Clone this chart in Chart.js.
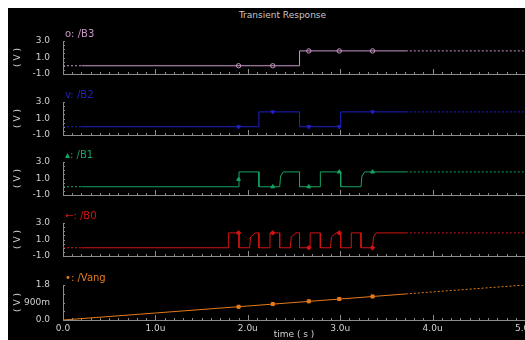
<!DOCTYPE html>
<html><head><meta charset="utf-8">
<script src="https://cdn.jsdelivr.net/npm/chart.js@4.4.1/dist/chart.umd.min.js"></script>
<style>
html,body{margin:0;padding:0;background:#fff;overflow:hidden;width:525px;height:340px;}
#frame{position:absolute;left:8px;top:8px;width:517px;height:332px;background:#000;overflow:hidden;}
#title{position:absolute;left:0;top:2px;width:549px;text-align:center;font:9px "DejaVu Sans";line-height:10px;color:#c8c8c8;white-space:nowrap;}
canvas{position:absolute;left:0;}
</style></head>
<body>
<div id="frame">
<div id="title">Transient Response</div>
<canvas id="c0" width="522" height="54"></canvas>
<canvas id="c1" width="522" height="54"></canvas>
<canvas id="c2" width="522" height="54"></canvas>
<canvas id="c3" width="522" height="54"></canvas>
<canvas id="c4" width="522" height="71"></canvas>
</div>
<script>
// ---- data (time in µs, values in V) ----
const xTickLabels = ['0.0','1.0u','2.0u','3.0u','4.0u','5.0u'];
const dashFrom = 3.71;
const dotUntil = 0.2;

const tB3 = [0, 0.2, 2.56, 2.56, 3.71, 5.0];
const vB3 = [0, 0, 0, 1.8, 1.8, 1.8];

const tB2 = [0, 0.2, 2.12, 2.12, 2.56, 2.56, 3.005, 3.005, 3.71, 5.0];
const vB2 = [0, 0, 0, 1.8, 1.8, 0, 0, 1.8, 1.8, 1.8];

const tB1 = [0, 0.2, 1.905, 1.905, 2.12, 2.12, 2.345, 2.355, 2.385, 2.56, 2.56, 2.785, 2.785, 3.005, 3.005, 3.225, 3.235, 3.265, 3.71, 5.0];
const vB1 = [0, 0, 0, 1.8, 1.8, 0, 0, 1.3, 1.8, 1.8, 0, 0, 1.8, 1.8, 0, 0, 1.3, 1.8, 1.8, 1.8];

const tB0 = [0, 0.2, 1.79, 1.79, 1.905, 1.905, 2.02, 2.03, 2.08, 2.12, 2.12, 2.24, 2.24, 2.345, 2.345, 2.46, 2.47, 2.52, 2.56, 2.56, 2.675, 2.675, 2.785, 2.785, 2.895, 2.905, 2.955, 3.005, 3.005, 3.12, 3.12, 3.225, 3.225, 3.35, 3.36, 3.39, 3.71, 5.0];
const vB0 = [0, 0, 0, 1.8, 1.8, 0, 0, 1.3, 1.8, 1.8, 0, 0, 1.8, 1.8, 0, 0, 1.3, 1.8, 1.8, 0, 0, 1.8, 1.8, 0, 0, 1.3, 1.8, 1.8, 0, 0, 1.8, 1.8, 0, 0, 1.3, 1.8, 1.8, 1.8];

const tVang = [0, 1.0, 2.0, 3.0, 3.71, 5.0];
const vVang = [0, 0.36, 0.72, 1.08, 1.34, 1.80];

const markTimes = [1.90, 2.27, 2.66, 2.99, 3.35];
const mB3 = [0, 0, 1.8, 1.8, 1.8];
const mB2 = [0, 1.8, 0, 0, 1.8];
const mB1 = [0.9, 0, 0, 1.8, 1.8];
const mB0 = [1.8, 1.8, 0, 1.8, 0];
const mVang = [0.68, 0.82, 0.96, 1.08, 1.21];

// ---- styling ----
const axisColor = '#8c8c8c';
const textColor = '#d0d0d0';
const panelTops = [41, 102, 162, 223, 285];
const panels = [
  {id:'c0', name:'o: /B3', color:'#c896c8', t:tB3, v:vB3, m:mB3, style:'circle', rot:0, min:-1, max:3, step:2, dotStart:true},
  {id:'c1', name:'v: /B2', color:'#2020c4', t:tB2, v:vB2, m:mB2, style:'triangle', rot:180, min:-1, max:3, step:2, dotStart:true},
  {id:'c2', name:'\u25B4: /B1', color:'#16a462', t:tB1, v:vB1, m:mB1, style:'triangle', rot:0, min:-1, max:3, step:2, dotStart:true},
  {id:'c3', name:'\u2190: /B0', color:'#d21414', t:tB0, v:vB0, m:mB0, style:'rectRot', rot:0, min:-1, max:3, step:2, dotStart:true},
  {id:'c4', name:'\u2022: /Vang', color:'#e47a1a', t:tVang, v:vVang, m:mVang, style:'rect', rot:0, min:0, max:1.8, step:0.9, dotStart:false}
];

const deco = {
  id:'deco',
  afterDraw(chart, args, opts){
    const {ctx, chartArea:a, scales:{x, y}} = chart;
    ctx.save();
    ctx.strokeStyle = axisColor; ctx.lineWidth = 1;
    ctx.beginPath();
    for (let k = 0; k <= 50; k++) {
      const px = Math.round(x.getPixelForValue(k/10)) + 0.5;
      const len = k % 10 === 0 ? 5 : 2;
      ctx.moveTo(px, a.bottom); ctx.lineTo(px, a.bottom - len);
    }
    const n = Math.round((y.max - y.min) / opts.yMinor);
    for (let k = 0; k <= n; k++) {
      const py = Math.round(y.getPixelForValue(y.min + k*opts.yMinor)) + 0.5;
      ctx.moveTo(a.left, py); ctx.lineTo(a.left + 2, py);
    }
    ctx.stroke();
    ctx.fillStyle = opts.color;
    ctx.font = '10px "DejaVu Sans"';
    ctx.textBaseline = 'middle';
    ctx.fillText(opts.label, a.left + 2, a.top - 7);
    ctx.restore();
  }
};

const font = {family:'DejaVu Sans', size:9};
function noPad(s){ s.paddingTop = 0; s.paddingBottom = 0; s.paddingLeft = 0; s.paddingRight = 0; }

panels.forEach((p, i) => {
  const isLast = i === panels.length - 1;
  const cv = document.getElementById(p.id);
  cv.style.top = (panelTops[i] - 24) + 'px';
  new Chart(cv, {
    type:'line',
    data:{
      datasets:[
        {
          data: p.t.map((t, k) => ({x:t, y:p.v[k]})),
          borderColor:p.color, borderWidth:1, pointRadius:0, tension:0,
          segment:{borderDash: ctx => {
            if (ctx.p0.parsed.x >= dashFrom - 1e-6) return [2, 2];
            if (p.dotStart && ctx.p1.parsed.x <= dotUntil + 1e-6) return [2, 2];
            return undefined;
          }}
        },
        {
          data: markTimes.map((t, k) => ({x:t, y:p.m[k]})),
          showLine:false, pointStyle:p.style, rotation:p.rot, pointRadius:2.2,
          borderColor:p.color, backgroundColor: p.style === 'circle' ? 'rgba(0,0,0,0)' : p.color, borderWidth:1
        }
      ]
    },
    options:{
      responsive:false, animation:false, devicePixelRatio:1,
      layout:{padding:{top:16, bottom:isLast ? 0 : 3, left:0, right:1}},
      plugins:{legend:{display:false}, tooltip:{enabled:false},
        deco:{color:p.color, label:p.name, yMinor: isLast ? 0.45 : 0.5}},
      scales:{
        x:{type:'linear', min:0, max:5,
          grid:{display:false, drawTicks:false},
          border:{display:true, color:axisColor, width:1},
          ticks:{display:isLast, stepSize:1, padding:3, color:textColor, font:font, maxRotation:0, autoSkip:false,
            callback:(v) => xTickLabels[Math.round(v)]},
          title:{display:isLast, text:'time ( s )', color:textColor, font:font, padding:{top:0, bottom:0}},
          afterFit:(s) => { s.height = isLast ? 20 : 0; noPad(s); }
        },
        y:{type:'linear', min:p.min, max:p.max,
          grid:{display:false, drawTicks:false},
          border:{display:true, color:axisColor, width:1},
          ticks:{stepSize:p.step, padding:13, color:textColor, font:font,
            callback:(v) => (isLast && Math.abs(v - 0.9) < 1e-6) ? '900m' : v.toFixed(1)},
          title:{display:true, text:'( V )', color:textColor, font:font, padding:{top:4, bottom:0}},
          afterFit:(s) => { s.width = 55; noPad(s); }
        }
      }
    },
    plugins:[deco]
  });
});
</script>
</body></html>
